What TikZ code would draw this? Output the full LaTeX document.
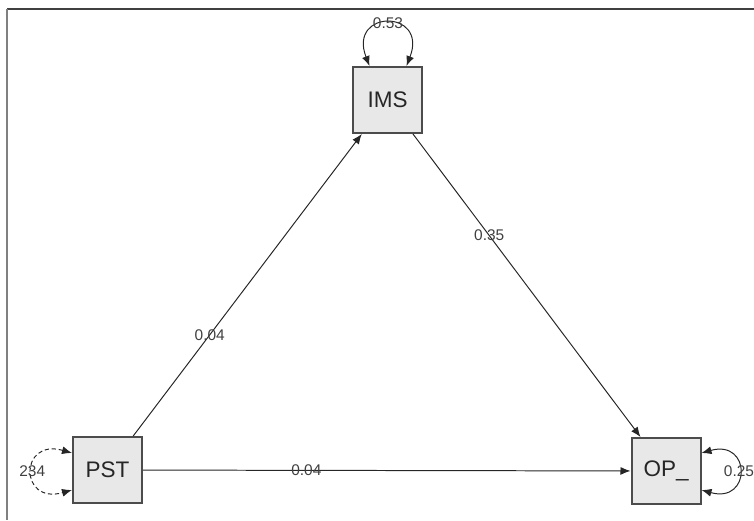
\documentclass[tikz,border=0pt]{standalone}
\usepackage{fontspec}
\setmainfont{Liberation Sans}
\usetikzlibrary{arrows.meta,calc}
\begin{document}
\begin{tikzpicture}[x=0.025cm,y=-0.025cm,
  var/.style={draw=black!70,line width=0.05cm,fill=black!9,minimum width=1.725cm,minimum height=1.65cm,inner sep=0pt,font=\fontsize{16}{19}\selectfont,text=black!85},
  reg/.style={-{Latex[length=0.25cm,width=0.2cm]},black!85,line width=0.7pt},
  selfvar/.style={{Latex[length=0.25cm,width=0.2cm]}-{Latex[length=0.25cm,width=0.2cm]},black!85,line width=0.7pt},
  est/.style={font=\fontsize{11}{13}\selectfont,text=black!75,inner sep=1pt}]
\useasboundingbox (0,0) rectangle (754,520);
\draw[black!75,line width=0.05cm] (7,9)--(754,9);
\draw[black!50,line width=0.05cm] (7,9)--(7,520);
\node[var] (ims) at (387.5,100) {IMS};
\node[var] (pst) at (107.5,470) {PST};
\node[var] (op) at (666,471) {OP\_};
\draw[reg] (pst) -- node[est,pos=0.335] {0.04} (ims);
\draw[reg] (ims) -- node[est,pos=0.335] {0.35} (op);
\draw[reg] (pst) -- node[est,pos=0.335] {0.04} (op);
\draw[selfvar] ($(ims.north)+(-18,0)$) .. controls ($(ims.north)+(-40,-57)$) and ($(ims.north)+(41,-57)$) .. node[est,pos=0.5] {0.53} ($(ims.north)+(19,0)$);
\draw[selfvar,dash pattern=on 3pt off 2pt] ($(pst.west)+(0,-17)$) .. controls ($(pst.west)+(-53,-32)$) and ($(pst.west)+(-53,35)$) .. node[est,pos=0.5] {234} ($(pst.west)+(0,20)$);
\draw[selfvar] ($(op.east)+(0,-18)$) .. controls ($(op.east)+(50,-32)$) and ($(op.east)+(50,33)$) .. node[est,pos=0.5] {0.25} ($(op.east)+(0,19)$);
\end{tikzpicture}
\end{document}
